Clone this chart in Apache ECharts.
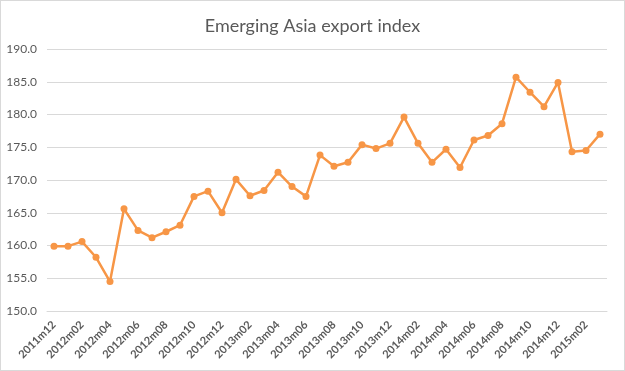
<!DOCTYPE html>
<html><head><meta charset="utf-8">
<script src="https://cdn.jsdelivr.net/npm/echarts@6/dist/echarts.min.js"></script>
<style>html,body{margin:0;padding:0;background:#fff}#c{width:623px;height:369px;border:1px solid #d9d9d9}</style>
</head><body><div id="c"></div>
<script>
var categories = ["2011m12","2012m01","2012m02","2012m03","2012m04","2012m05","2012m06","2012m07","2012m08","2012m09","2012m10","2012m11","2012m12","2013m01","2013m02","2013m03","2013m04","2013m05","2013m06","2013m07","2013m08","2013m09","2013m10","2013m11","2013m12","2014m01","2014m02","2014m03","2014m04","2014m05","2014m06","2014m07","2014m08","2014m09","2014m10","2014m11","2014m12","2015m01","2015m02","2015m03"];
var exportIndex = [159.9,159.9,160.6,158.2,154.5,165.6,162.3,161.2,162.1,163.1,167.5,168.3,165.0,170.1,167.6,168.4,171.2,169.0,167.5,173.8,172.1,172.7,175.4,174.8,175.6,179.6,175.6,172.7,174.7,171.9,176.1,176.8,178.6,185.7,183.4,181.2,184.9,174.3,174.5,177.0];
var title = "Emerging Asia export index";
var chart = echarts.init(document.getElementById('c'));
chart.setOption({
  animation:false,
  title:{text:title,left:'center',top:11,textStyle:{fontFamily:'Lato',fontSize:18,fontWeight:'normal',color:'#595959'}},
  grid:{left:46,right:17,top:48,bottom:59},
  xAxis:{type:'category',data:categories,boundaryGap:true,
    axisLine:{lineStyle:{color:'#d9d9d9'}},axisTick:{show:false},
    axisLabel:{interval:1,rotate:45,color:'#595959',fontFamily:'Lato',fontSize:11,fontWeight:'bold',margin:12}},
  yAxis:{type:'value',min:150,max:190,interval:5,
    axisLine:{show:false},axisTick:{show:false},
    splitLine:{lineStyle:{color:'#d9d9d9'}},
    axisLabel:{color:'#595959',fontFamily:'Lato',fontSize:12,margin:10,formatter:function(v){return v.toFixed(1);}}},
  series:[{type:'line',data:exportIndex,symbol:'circle',symbolSize:7,
    lineStyle:{color:'#f79646',width:2.5},itemStyle:{color:'#f79646'}}]
});
</script></body></html>
